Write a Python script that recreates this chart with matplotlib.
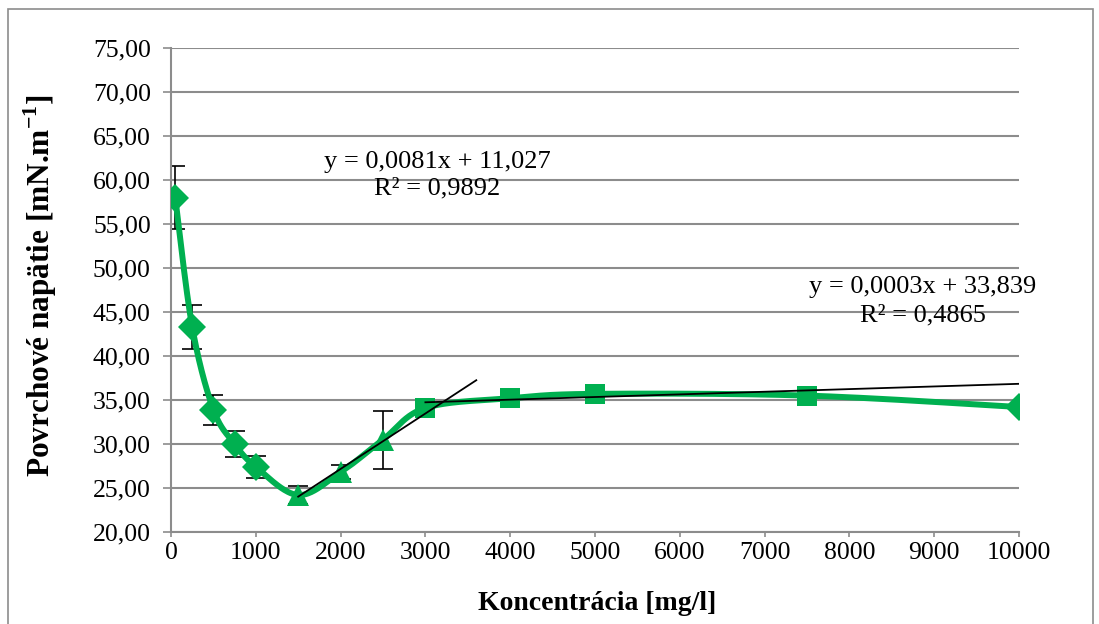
import numpy as np
import matplotlib
matplotlib.use("Agg")
import matplotlib.pyplot as plt
from matplotlib.patches import Rectangle

# ---- data ----
conc_diamond = [50, 250, 500, 750, 1000, 10000]
tens_diamond = [58.0, 43.3, 33.9, 30.0, 27.4, 34.2]
err_diamond = [3.6, 2.5, 1.7, 1.5, 1.25, 0.0]

conc_triangle = [1500, 2000, 2500]
tens_triangle = [24.2, 26.8, 30.5]
err_triangle = [1.0, 0.8, 3.3]

conc_square = [3000, 4000, 5000, 7500]
tens_square = [34.1, 35.2, 35.7, 35.5]
err_square = [0.0, 0.0, 0.0, 0.0]

trend1_range = [1500, 3600]
trend2_coef = [0.0003, 33.839]
trend2_range = [3000, 10000]

eq1_text = "y = 0,0081x + 11,027\nR² = 0,9892"
eq2_text = "y = 0,0003x + 33,839\nR² = 0,4865"

x_ticks = list(range(0, 10001, 1000))
y_ticks = list(range(20, 76, 5))

GREEN = "#00B050"
GRID = "#8C8C8C"

plt.rcParams['font.family'] = ['Liberation Serif', 'DejaVu Serif']
plt.rcParams['mathtext.fontset'] = 'custom'
plt.rcParams['mathtext.rm'] = 'Liberation Serif'
plt.rcParams['mathtext.bf'] = 'Liberation Serif:bold'

fig = plt.figure(figsize=(10.99, 6.24), dpi=100)
W, H = 1099, 624
ax = fig.add_axes([171 / W, 1 - 532 / H, (1019 - 171) / W, (532 - 48) / H])
ax.set_xlim(0, 10000)
ax.set_ylim(20, 75)

# figure border
fig.patches.append(Rectangle((8 / W, -0.01), (1093 - 8) / W, 1.01 - 9 / H,
                             transform=fig.transFigure, fill=False,
                             edgecolor="#8C8C8C", linewidth=1.2))

# all points sorted for the smooth curve
xs = np.array(conc_diamond[:-1] + conc_triangle + conc_square + conc_diamond[-1:], dtype=float)
ys = np.array(tens_diamond[:-1] + tens_triangle + tens_square + tens_diamond[-1:], dtype=float)

# Excel-like smoothing (Bezier with Catmull-Rom tangents) in screen-proportional space
sx = (1019 - 171) / 10000.0
sy = (532 - 48) / 55.0
P = np.column_stack([xs * sx, ys * sy])
curve = []
n = len(P)
for i in range(n - 1):
    p0 = P[i - 1] if i > 0 else P[i]
    p1 = P[i]
    p2 = P[i + 1]
    p3 = P[i + 2] if i + 2 < n else P[i + 1]
    c1 = p1 + (p2 - p0) / 6.0
    c2 = p2 - (p3 - p1) / 6.0
    t = np.linspace(0, 1, 40)[:, None]
    seg = (1 - t) ** 3 * p1 + 3 * (1 - t) ** 2 * t * c1 + 3 * (1 - t) * t ** 2 * c2 + t ** 3 * p2
    curve.append(seg if i == 0 else seg[1:])
curve = np.vstack(curve)
ax.plot(curve[:, 0] / sx, curve[:, 1] / sy, color=GREEN, lw=4.3, zorder=3,
        solid_capstyle='round', solid_joinstyle='round')

# error bars
for cx, cy, ce in [(conc_diamond, tens_diamond, err_diamond),
                   (conc_triangle, tens_triangle, err_triangle),
                   (conc_square, tens_square, err_square)]:
    cx = np.array(cx); cy = np.array(cy); ce = np.array(ce)
    m = ce > 0
    ax.errorbar(cx[m], cy[m], yerr=ce[m], fmt='none', ecolor='black',
                elinewidth=1.2, capsize=7, capthick=1.2, zorder=2)

# markers
ax.plot(conc_diamond, tens_diamond, 'D', color=GREEN, ms=14, zorder=4, mew=0)
ax.plot(conc_triangle, tens_triangle, '^', color=GREEN, ms=16, zorder=4, mew=0)
ax.plot(conc_square, tens_square, 's', color=GREEN, ms=14, zorder=4, mew=0)

# trendlines
k1, q1 = np.polyfit(conc_triangle, tens_triangle, 1)
tx1 = np.array(trend1_range, dtype=float)
ax.plot(tx1, k1 * tx1 + q1, color='black', lw=1.3, zorder=5)
tx2 = np.array(trend2_range, dtype=float)
ax.plot(tx2, trend2_coef[0] * tx2 + trend2_coef[1], color='black', lw=1.3, zorder=5)

# equations
fig.text(437 / W, 1 - 175 / H, eq1_text, ha='center', va='center', fontsize=19,
         linespacing=1.25)
fig.text(923 / W, 1 - 301 / H, eq2_text, ha='center', va='center', fontsize=19,
         linespacing=1.35)

# axes styling
ax.set_xticks(x_ticks)
ax.set_xticklabels([str(v) for v in x_ticks], fontsize=18.5)
ax.set_yticks(y_ticks)
ax.set_yticklabels([f"{v:.2f}".replace('.', ',') for v in y_ticks], fontsize=18.5)
ax.yaxis.grid(True, color=GRID, lw=1.5)
ax.set_axisbelow(True)
for s in ['top', 'right']:
    ax.spines[s].set_visible(False)
for s in ['left', 'bottom']:
    ax.spines[s].set_color(GRID)
    ax.spines[s].set_linewidth(1.5)
ax.tick_params(axis='y', length=5.5, width=1.2, color=GRID, pad=9)
ax.tick_params(axis='x', length=3.5, width=1.2, color=GRID, pad=4)

fig.text(597 / W, 1 - 604 / H, "Koncentrácia [mg/l]", ha='center', va='center',
         fontsize=20, fontweight='bold')
fig.text(40 / W, 1 - 286 / H, "Povrchové napätie [mN.m$^{\\mathbf{-1}}$]", ha='center',
         va='center', fontsize=22.5, fontweight='bold', rotation=90)

fig.savefig("out.png", dpi=100)
